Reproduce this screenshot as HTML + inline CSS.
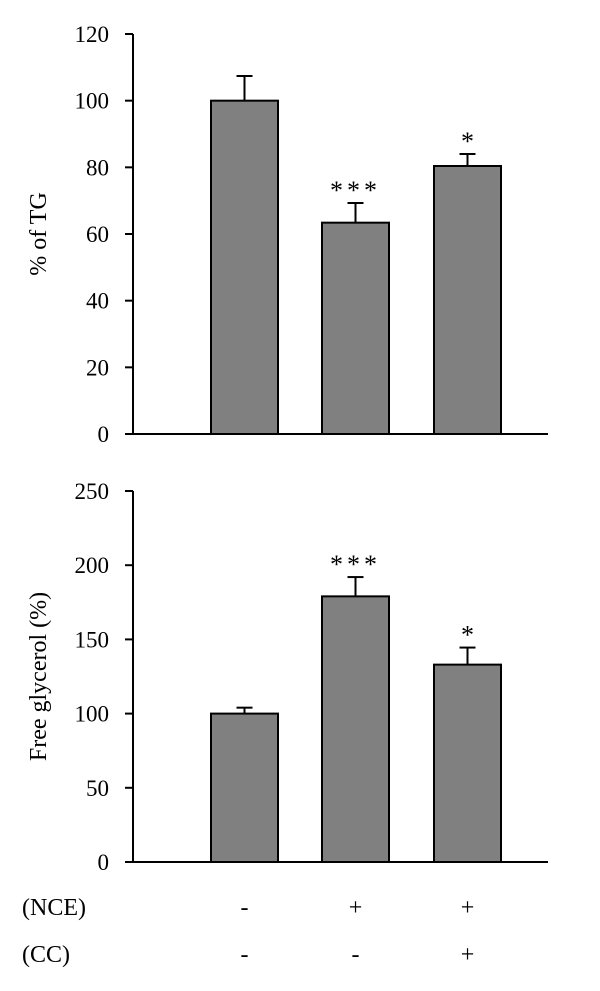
<!DOCTYPE html>
<html><head><meta charset="utf-8"><style>
body{margin:0;background:#fff}
svg{display:block;font-family:"Liberation Serif",serif}
</style></head><body>
<svg id="chart" width="600" height="991" viewBox="0 0 600 991"></svg>
<script>
const categories=["Control","NCE","NCE+CC"];
const tgValues=[100,63.4,80.4];
const tgErrors=[7.4,5.9,3.6];
const tgSig=["","***","*"];
const tgTicks=[0,20,40,60,80,100,120];
const glyValues=[100,179,133];
const glyErrors=[4,13,11.5];
const glySig=["","***","*"];
const glyTicks=[0,50,100,150,200,250];
const nceRow=["-","+","+"];
const ccRow=["-","-","+"];

const NS="http://www.w3.org/2000/svg";
const svg=document.getElementById("chart");
function el(t,a,p){const e=document.createElementNS(NS,t);for(const k in a)e.setAttribute(k,a[k]);(p||svg).appendChild(e);return e;}
const barX=[211,322,434], barW=67, axisX=133, axisEnd=548;
function xc(i){return barX[i]+barW/2;}

function panel(name,values,errors,sig,ticks,yTop,yBot,max,title){
  const g=el("g",{});
  
  
  const y=v=>yBot-(v/max)*(yBot-yTop);
  const ax=el("line",{x1:axisX,y1:y(max),x2:axisX,y2:yBot,stroke:"#000","stroke-width":2},g);
  
  
  ticks.forEach(t=>{
    const tk=el("line",{x1:axisX-8,y1:y(t),x2:axisX,y2:y(t),stroke:"#000","stroke-width":2},g);
    
    
    const tl=el("text",{x:axisX-24,y:y(t)+8,"text-anchor":"end","font-size":23},g);
    tl.textContent=t;
    
    
  });
  values.forEach((v,i)=>{
    const b=el("rect",{x:barX[i],y:y(v),width:barW,height:yBot-y(v),fill:"#808080",stroke:"#000","stroke-width":2},g);
    
    
    const et=y(v+errors[i]);
    const e1=el("line",{x1:xc(i),y1:y(v),x2:xc(i),y2:et,stroke:"#000","stroke-width":2},g);
    
    
    const e2=el("line",{x1:xc(i)-8,y1:et,x2:xc(i)+8,y2:et,stroke:"#000","stroke-width":2},g);
    
    
    if(sig[i]){
      const s=el("text",{x:xc(i),y:et-4,"text-anchor":"middle","font-size":26,"letter-spacing":sig[i].length>1?4:0},g);
      s.textContent=sig[i];
      
      
    }
  });
  const xa=el("line",{x1:axisX-8,y1:yBot,x2:axisEnd,y2:yBot,stroke:"#000","stroke-width":2},g);
  
  
  const my=(yTop+yBot)/2;
  const tt=el("text",{x:0,y:0,"text-anchor":"middle","font-size":24,transform:`translate(46,${my}) rotate(-90)`},g);
  tt.textContent=title;
  
  
}
panel("tg",tgValues,tgErrors,tgSig,tgTicks,34,434,120,"% of TG");
panel("glycerol",glyValues,glyErrors,glySig,glyTicks,491,862,250,"Free glycerol (%)");

function row(label,vals,yy,name){
  const l=el("text",{x:22,y:yy,"font-size":24});
  l.textContent=label;
  
  
  vals.forEach((v,i)=>{
    const t=el("text",{x:xc(i),y:yy,"text-anchor":"middle","font-size":24});
    t.textContent=v;
    
    
  });
}
row("(NCE)",nceRow,915,"nce");
row("(CC)",ccRow,962,"cc");
</script>
</body></html>
